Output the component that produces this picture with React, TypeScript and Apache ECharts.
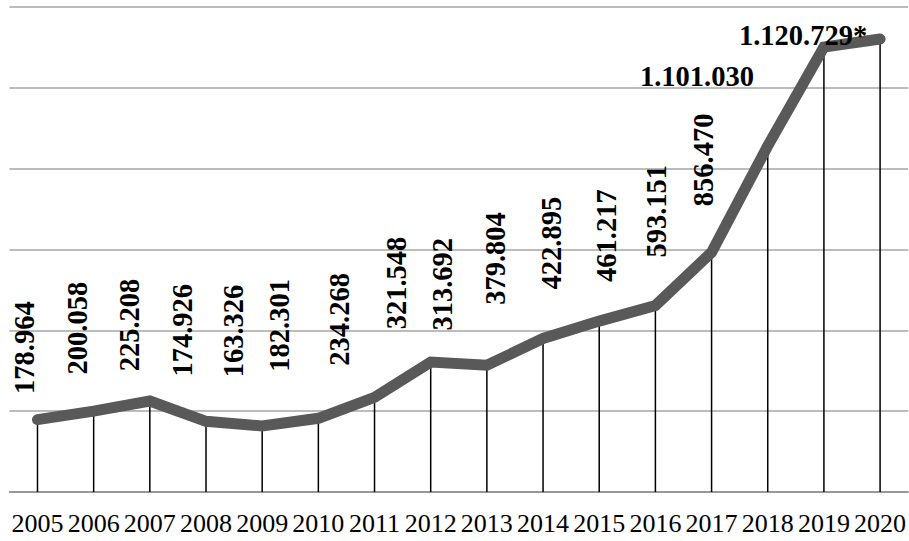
import React, { useEffect, useRef } from "react";
import * as echarts from "echarts";

const years = ["2005","2006","2007","2008","2009","2010","2011","2012","2013","2014","2015","2016","2017","2018","2019","2020"];
const values = [178964,200058,225208,174926,163326,182301,234268,321548,313692,379804,422895,461217,593151,856470,1101030,1120729];
const labelTexts = ["178.964","200.058","225.208","174.926","163.326","182.301","234.268","321.548","313.692","379.804","422.895","461.217","593.151","856.470","1.101.030","1.120.729*"];
// screen displacement of each label centre from its point [dx, dy], and whether it is vertical
const labelShift: [number, number, boolean][] = [
  [-13,-72,true],[-16,-83,true],[-20,-76,true],[-24,-91,true],[-29,-95,true],[-39,-93,true],
  [-35,-78,true],[-34,-79,true],[-44,-81,true],[-48,-80,true],[-48,-78,true],[-49,-70,true],
  [-55,-41,true],[-64,14,true],[-127,29,false],[-77,-4,false]
];

export default function App() {
  const ref = useRef<HTMLDivElement>(null);
  useEffect(() => {
    const chart = echarts.init(ref.current!, null, { renderer: "svg" });
    const lineData = values.map((v, i) => {
      const [dx, dy, vert] = labelShift[i];
      return {
        value: v,
        label: {
          show: true,
          formatter: labelTexts[i],
          position: "inside",
          align: "center",
          verticalAlign: "middle",
          rotate: vert ? 90 : 0,
          offset: vert ? [-dy, dx] : [dx, dy],
        },
      };
    });
    chart.setOption({
      animation: false,
      backgroundColor: "#ffffff",
      grid: { left: 9.4, right: -2, top: 7, bottom: 49, containLabel: false },
      xAxis: {
        type: "category",
        data: years,
        boundaryGap: true,
        axisLine: { lineStyle: { color: "#8c8c8c", width: 1.5 } },
        axisTick: { show: false },
        axisLabel: {
          interval: 0,
          color: "#000",
          fontFamily: "'Liberation Serif', 'Times New Roman', serif",
          fontSize: 26,
          margin: 18,
        },
      },
      yAxis: {
        type: "value",
        min: 0,
        max: 1200000,
        interval: 200000,
        axisLabel: { show: false },
        axisLine: { show: false },
        axisTick: { show: false },
        splitLine: { lineStyle: { color: "#a6a6a6", width: 1.5 } },
      },
      series: [
        {
          type: "bar",
          data: values,
          barWidth: 1.5,
          silent: true,
          itemStyle: { color: "#000" },
          z: 1,
        },
        {
          type: "line",
          data: lineData,
          symbol: "circle",
          symbolSize: 2,
          showSymbol: true,
          itemStyle: { color: "#595959" },
          lineStyle: { color: "#595959", width: 11, cap: "round", join: "miter" },
          label: {
            color: "#000",
            fontFamily: "'Liberation Serif', 'Times New Roman', serif",
            fontWeight: "bold",
            fontSize: 28.5,
          },
          z: 2,
        },
      ],
    });
    return () => chart.dispose();
  }, []);
  return <div ref={ref} style={{ position: "fixed", left: 0, top: 0, width: 909, height: 541 }} />;
}
